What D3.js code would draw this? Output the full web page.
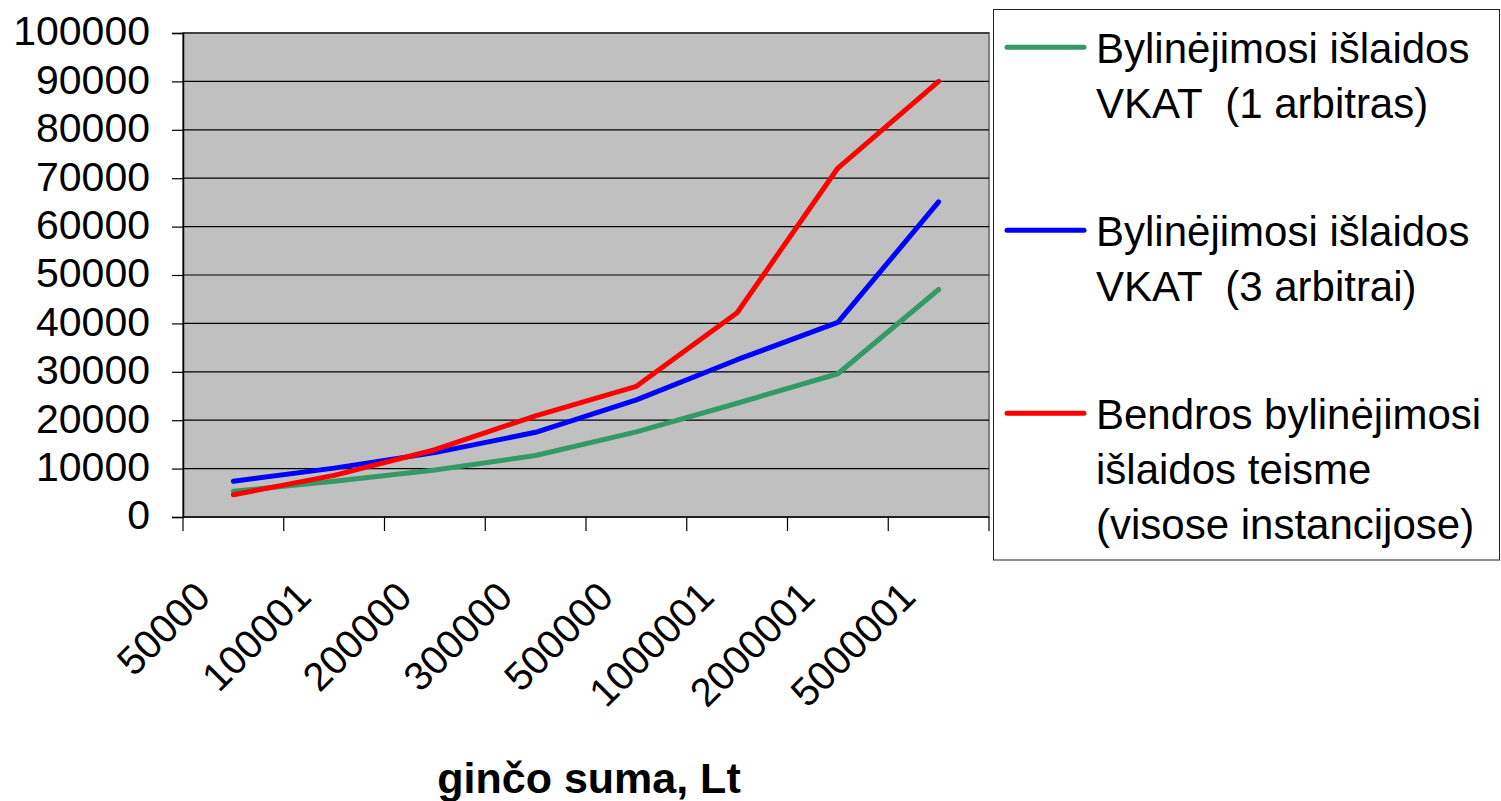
<!DOCTYPE html>
<html>
<head>
<meta charset="utf-8">
<script src="https://cdn.jsdelivr.net/npm/d3@7"></script>
<style>
  html, body { margin: 0; padding: 0; background: #fff; }
  svg { display: block; }
  text { font-family: "Liberation Sans", Arial, Helvetica, sans-serif; fill: #000; }
</style>
</head>
<body>
<svg id="chart" width="1501" height="801"></svg>
<script>
// ---- data ----
const categories = ["50000", "100001", "200000", "300000", "500000", "1000001", "2000001", "5000001"];
const yTickValues = [0, 10000, 20000, 30000, 40000, 50000, 60000, 70000, 80000, 90000, 100000];
const vkat1 = [5300, 7400, 9700, 12700, 17600, 23500, 29600, 47000];
const vkat3 = [7400, 10100, 13300, 17500, 24200, 32500, 40200, 65100];
const teismas = [4600, 8600, 13900, 20900, 27000, 42200, 72100, 90000];
const seriesNames = [
  ["Bylinėjimosi išlaidos", "VKAT  (1 arbitras)"],
  ["Bylinėjimosi išlaidos", "VKAT  (3 arbitrai)"],
  ["Bendros bylinėjimosi", "išlaidos teisme", "(visose instancijose)"]
];
const seriesColors = ["#339966", "#0000FF", "#FF0000"];
const xTitle = "ginčo suma, Lt";

const seriesData = [vkat1, vkat3, teismas];

// ---- layout ----
const svg = d3.select("#chart");
const plot = { left: 183, right: 989, top: 33, bottom: 517 };

const x = d3.scaleBand().domain(categories).range([plot.left, plot.right]);
const y = d3.scaleLinear().domain([0, 100000]).range([plot.bottom, plot.top]);
const cx = c => x(c) + x.bandwidth() / 2;

// plot background
svg.append("rect")
  .attr("x", plot.left).attr("y", plot.top)
  .attr("width", plot.right - plot.left).attr("height", plot.bottom - plot.top)
  .attr("fill", "#C0C0C0")
  .attr("stroke", "#808080").attr("stroke-width", 2);

// gridlines
svg.append("g").selectAll("line")
  .data(yTickValues.filter(v => v > 0))
  .join("line")
  .attr("x1", plot.left).attr("x2", plot.right)
  .attr("y1", d => y(d)).attr("y2", d => y(d))
  .attr("stroke", "#000").attr("stroke-width", 1.2);

// y axis
const yAxis = svg.append("g")
  .attr("transform", `translate(${plot.left},0)`)
  .call(d3.axisLeft(y).tickValues(yTickValues).tickSize(11).tickPadding(24).tickFormat(d3.format("d")));
yAxis.select(".domain").attr("stroke", "#000").attr("stroke-width", 1.5);
yAxis.selectAll(".tick line").attr("stroke", "#000").attr("stroke-width", 1.2);
yAxis.selectAll(".tick text")
  .attr("font-size", 41)
  .attr("dy", "0.29em")
  .attr("x", -33)
  .style("font-family", "'Liberation Sans', Arial, sans-serif")
  .attr("fill", "#000");

// x axis line
svg.append("line")
  .attr("x1", plot.left).attr("x2", plot.right)
  .attr("y1", plot.bottom).attr("y2", plot.bottom)
  .attr("stroke", "#000").attr("stroke-width", 1.5);

// x ticks at band boundaries
const boundaries = categories.map(c => x(c)).concat([x.range()[1]]);
svg.append("g").selectAll("line")
  .data(boundaries)
  .join("line")
  .attr("x1", d => d).attr("x2", d => d)
  .attr("y1", plot.bottom).attr("y2", plot.bottom + 14)
  .attr("stroke", "#000").attr("stroke-width", 1.2);

// x tick labels rotated
svg.append("g").selectAll("text")
  .data(categories)
  .join("text")
  .attr("transform", d => `translate(${cx(d) - 21},${plot.bottom + 82}) rotate(-45)`)
  .attr("text-anchor", "end")
  .attr("font-size", 40)
  .text(d => d);

// x title
svg.append("text")
  .attr("x", 589).attr("y", 793)
  .attr("text-anchor", "middle")
  .attr("font-size", 43)
  .attr("font-weight", "bold")
  .text(xTitle);

// lines
const line = d3.line()
  .x((d, i) => cx(categories[i]))
  .y(d => y(d));

svg.append("g").selectAll("path")
  .data(seriesData)
  .join("path")
  .attr("d", d => line(d))
  .attr("fill", "none")
  .attr("stroke", (d, i) => seriesColors[i])
  .attr("stroke-width", 5)
  .attr("stroke-linejoin", "round")
  .attr("stroke-linecap", "round");

// legend
const legend = svg.append("g");
legend.append("rect")
  .attr("x", 993.5).attr("y", 9.5)
  .attr("width", 506).attr("height", 550.5)
  .attr("fill", "#fff")
  .attr("stroke", "#222").attr("stroke-width", 1);

const entry = legend.selectAll("g.entry")
  .data(seriesNames)
  .join("g")
  .attr("class", "entry")
  .attr("transform", (d, i) => `translate(0,${i * 183})`);

entry.append("line")
  .attr("x1", 1007).attr("x2", 1084)
  .attr("y1", 47.3).attr("y2", 47.3)
  .attr("stroke", (d, i) => seriesColors[i])
  .attr("stroke-width", 5)
  .attr("stroke-linecap", "round");

entry.each(function(lines) {
  d3.select(this).selectAll("text")
    .data(lines)
    .join("text")
    .attr("x", 1096)
    .attr("y", (t, j) => 62.6 + j * 55.3)
    .attr("font-size", 42)
    .style("white-space", "pre")
    .text(t => t);
});
</script>
</body>
</html>
